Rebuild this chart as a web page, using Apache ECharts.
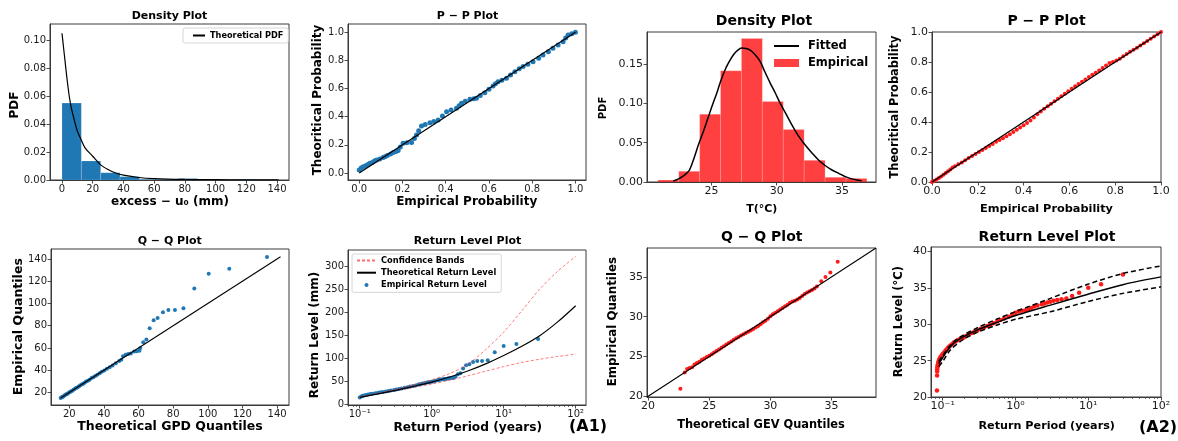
<!DOCTYPE html>
<html><head><meta charset="utf-8">
<script src="https://cdn.jsdelivr.net/npm/echarts@6/dist/echarts.min.js"></script>
<style>html,body{margin:0;padding:0;background:#fff}#c{width:1178px;height:441px}</style>
</head><body><div id="c"></div><script>
// ---------------- DATA ----------------
// (A1) Density plot
const a1HistEdges = [0, 12.6, 25.2, 37.8, 50.4, 63, 75.6, 88.2, 100.8, 113.4, 126];
const a1HistDensity = [0.055, 0.0136, 0.0052, 0.0024, 0.0005, 0.0005, 0.0011, 0.0003, 0.0003, 0.0005];
const a1PdfX = [0, 1, 2, 3, 4, 5, 6, 8, 10, 12.4, 15, 20, 25, 30, 35, 40, 50, 60, 80, 100, 120, 141];
const a1PdfY = [0.105, 0.095, 0.085, 0.075, 0.066, 0.058, 0.052, 0.043, 0.035, 0.029, 0.023, 0.017, 0.011, 0.0075, 0.005, 0.0035, 0.0018, 0.001, 0.0004, 0.0002, 0.0001, 0.00005];
const a1DensXTicks = [0, 20, 40, 60, 80, 100, 120, 140];
const a1DensYTicks = [0, 0.02, 0.04, 0.06, 0.08, 0.10];

// (A1) P-P plot
const a1PPEmp = [0.0, 0.009, 0.018, 0.03, 0.04, 0.049, 0.06, 0.07, 0.08, 0.095, 0.11, 0.119, 0.13, 0.145, 0.157, 0.17, 0.18, 0.19, 0.203, 0.22, 0.242, 0.255, 0.265, 0.275, 0.288, 0.305, 0.327, 0.345, 0.365, 0.385, 0.404, 0.425, 0.45, 0.462, 0.473, 0.49, 0.512, 0.53, 0.542, 0.56, 0.581, 0.6, 0.619, 0.63, 0.642, 0.66, 0.681, 0.7, 0.72, 0.74, 0.758, 0.78, 0.804, 0.83, 0.85, 0.875, 0.896, 0.92, 0.943, 0.955, 0.966, 0.983, 1.0];
const a1PPTheo = [0.021, 0.035, 0.045, 0.052, 0.06, 0.069, 0.075, 0.085, 0.092, 0.1, 0.11, 0.116, 0.125, 0.135, 0.145, 0.152, 0.159, 0.185, 0.211, 0.214, 0.216, 0.245, 0.27, 0.3, 0.334, 0.345, 0.357, 0.366, 0.377, 0.405, 0.436, 0.448, 0.46, 0.478, 0.495, 0.51, 0.524, 0.528, 0.531, 0.55, 0.571, 0.595, 0.618, 0.635, 0.649, 0.66, 0.673, 0.697, 0.72, 0.74, 0.756, 0.772, 0.791, 0.815, 0.839, 0.862, 0.886, 0.91, 0.933, 0.96, 0.981, 0.99, 1.0];
const probTicks = [0, 0.2, 0.4, 0.6, 0.8, 1.0];

// (A1) Q-Q plot
const a1QQTheo = [15, 15.5, 16, 16.5, 17, 17.5, 18, 18.6, 19.2, 19.8, 20.4, 21, 21.7, 22.4, 23.1, 23.8, 24.6, 25.4, 26.2, 27, 27.9, 28.8, 29.7, 30.7, 31.7, 32.8, 33.9, 35, 36.2, 37.5, 38.8, 40.2, 41.7, 43.3, 45, 46.8, 48.8, 50, 51, 52.5, 54, 55.5, 57.5, 59, 60.5, 61, 62.7, 64.5, 66.4, 68.7, 71, 74.1, 77.2, 81, 85.9, 92.2, 100.5, 112.4, 134.2];
const a1QQEmp = [15, 15.6, 16, 16.4, 17, 17.6, 18.1, 18.5, 19.1, 19.9, 20.5, 21, 21.6, 22.5, 23, 23.9, 24.4, 25.3, 26.3, 27.1, 27.6, 28.7, 29.9, 30.5, 31.5, 32.9, 33.6, 34.8, 35.9, 37.2, 38.6, 39.7, 41.2, 42.6, 44.2, 46.3, 48.2, 49.5, 52.5, 53.8, 54.5, 55, 56.8, 57, 57.5, 59.9, 65.2, 67.6, 77.8, 85, 87, 92.2, 94.2, 94.2, 95.8, 113.4, 126.8, 131.3, 141.8];
const a1QQLine = [[15, 15], [142, 142]];
const a1QQTicks = [20, 40, 60, 80, 100, 120, 140];

// (A1) Return level plot
const a1RetTheoP = [0.1, 0.178, 0.316, 0.562, 1, 1.78, 3.16, 5.62, 10, 17.8, 31.6, 56.2, 100];
const a1RetTheoV = [15.2, 22.7, 30.6, 39.2, 48.5, 59.5, 72.5, 88, 106, 126, 149, 179, 214];
const a1RetUpP = [0.1, 0.178, 0.316, 0.562, 1, 1.78, 3.16, 5.62, 10, 17.8, 31.6, 56.2, 100];
const a1RetUpV = [15.3, 24, 33, 42.5, 53.5, 67, 87, 119, 157, 203, 250, 289, 321];
const a1RetLoP = [0.1, 0.178, 0.316, 0.562, 1, 1.78, 3.16, 5.62, 10, 17.8, 31.6, 56.2, 100];
const a1RetLoV = [15.1, 23, 30, 37, 44, 52.5, 62, 72, 82, 91, 98, 104, 109];
const a1RetEmpP = [30, 15, 10, 7.5, 6, 5, 4.29, 3.75, 3.33, 3.0, 2.73, 2.5, 2.31, 2.14, 2.0, 1.88, 1.76, 1.67, 1.58, 1.5, 1.43, 1.36, 1.3, 1.25, 1.2, 1.11, 1.03, 0.97, 0.91, 0.86, 0.81, 0.75, 0.7, 0.65, 0.6, 0.55, 0.5, 0.46, 0.42, 0.38, 0.35, 0.32, 0.3, 0.27, 0.25, 0.23, 0.21, 0.195, 0.18, 0.165, 0.15, 0.14, 0.13, 0.122, 0.115, 0.11, 0.105, 0.1];
const a1RetEmpV = [141.8, 131.3, 126.8, 113.4, 95.8, 94.2, 94.2, 92.2, 87, 85, 77.8, 67.6, 65.2, 59.9, 57.5, 57.2, 56.8, 56, 55.3, 55, 54.6, 54.2, 53.8, 53.2, 52.5, 51, 49.5, 48.6, 48.2, 47.3, 46.3, 45.2, 44.2, 43, 41.2, 39.9, 38.6, 37.2, 35.9, 34.5, 33.6, 32.4, 31.5, 29.9, 28.9, 27.9, 27.1, 26.2, 25.3, 24.4, 23.3, 22.5, 21.6, 20.5, 19.5, 18.5, 17.2, 15];
const a1RetYTicks = [0, 50, 100, 150, 200, 250, 300];

// (A2) Density plot
const a2HistEdges = [20.9, 22.5, 24.1, 25.7, 27.3, 28.9, 30.5, 32.1, 33.7, 35.3, 36.9];
const a2HistDensity = [0.0025, 0.0136, 0.0863, 0.1416, 0.1828, 0.1025, 0.0667, 0.0276, 0.006, 0.0045];
const a2FitX = [22.09, 22.6, 23.24, 23.6, 24.0, 24.4, 24.77, 25.1, 25.41, 25.7, 26.05, 26.35, 26.69, 27.0, 27.33, 27.65, 27.97, 28.35, 28.73, 29.1, 29.5, 29.9, 30.26, 30.7, 31.16, 31.65, 32.18, 32.7, 33.2, 33.7, 34.23, 34.75, 35.25, 35.75, 36.27, 36.5];
const a2FitY = [0.0013, 0.005, 0.0133, 0.027, 0.047, 0.065, 0.083, 0.099, 0.113, 0.128, 0.143, 0.153, 0.162, 0.1675, 0.1705, 0.170, 0.168, 0.162, 0.1535, 0.14, 0.126, 0.113, 0.1004, 0.087, 0.0727, 0.059, 0.047, 0.037, 0.028, 0.021, 0.0153, 0.011, 0.0069, 0.004, 0.0022, 0.0017];
const a2DensXTicks = [25, 30, 35];
const a2DensYTicks = [0, 0.05, 0.10, 0.15];

// (A2) P-P plot
const a2PPEmp = [0, 0.01, 0.02, 0.03, 0.04, 0.05, 0.06, 0.07, 0.08, 0.09, 0.1, 0.115, 0.13, 0.145, 0.16, 0.175, 0.19, 0.205, 0.22, 0.235, 0.25, 0.265, 0.28, 0.295, 0.31, 0.325, 0.34, 0.355, 0.37, 0.385, 0.4, 0.415, 0.43, 0.445, 0.46, 0.475, 0.49, 0.505, 0.52, 0.535, 0.55, 0.565, 0.58, 0.595, 0.61, 0.625, 0.64, 0.655, 0.67, 0.685, 0.7, 0.715, 0.73, 0.745, 0.76, 0.775, 0.79, 0.805, 0.82, 0.835, 0.85, 0.865, 0.88, 0.895, 0.91, 0.925, 0.94, 0.955, 0.97, 0.985, 1.0];
const a2PPTheo = [0, 0.008, 0.017, 0.027, 0.037, 0.048, 0.06, 0.072, 0.084, 0.097, 0.105, 0.118, 0.13, 0.145, 0.16, 0.174, 0.187, 0.2, 0.213, 0.227, 0.24, 0.254, 0.268, 0.28, 0.292, 0.305, 0.318, 0.333, 0.348, 0.363, 0.378, 0.393, 0.41, 0.43, 0.452, 0.47, 0.488, 0.505, 0.522, 0.538, 0.555, 0.571, 0.588, 0.605, 0.622, 0.638, 0.653, 0.668, 0.684, 0.7, 0.715, 0.729, 0.744, 0.76, 0.777, 0.793, 0.8, 0.81, 0.822, 0.838, 0.853, 0.868, 0.881, 0.895, 0.91, 0.925, 0.94, 0.955, 0.97, 0.985, 1.0];

// (A2) Q-Q plot
const a2QQTheo = [22.65, 23.0, 23.2, 23.4, 23.6, 23.8, 24.0, 24.2, 24.4, 24.6, 24.8, 25.0, 25.2, 25.4, 25.6, 25.8, 26.0, 26.2, 26.4, 26.6, 26.8, 27.0, 27.2, 27.4, 27.6, 27.8, 28.0, 28.2, 28.4, 28.6, 28.8, 29.0, 29.2, 29.4, 29.6, 29.8, 30.0, 30.2, 30.4, 30.6, 30.8, 31.0, 31.2, 31.4, 31.6, 31.8, 32.0, 32.2, 32.4, 32.6, 32.8, 33.0, 33.2, 33.4, 33.6, 33.8, 34.16, 34.5, 34.9, 35.5];
const a2QQEmp = [20.96, 23.0, 23.45, 23.55, 23.65, 24.0, 24.2, 24.35, 24.6, 24.75, 24.95, 25.1, 25.3, 25.5, 25.7, 25.9, 26.1, 26.3, 26.5, 26.7, 26.9, 27.1, 27.3, 27.45, 27.65, 27.8, 27.95, 28.1, 28.28, 28.45, 28.65, 28.85, 29.05, 29.3, 29.5, 29.75, 30.05, 30.3, 30.5, 30.7, 30.9, 31.1, 31.3, 31.5, 31.75, 31.9, 32.0, 32.15, 32.35, 32.6, 32.85, 33.05, 33.2, 33.35, 33.55, 33.8, 34.46, 35.0, 35.55, 36.9];
const a2QQLine = [[19.92, 19.92], [38.63, 38.63]];
const a2QQTicks = [20, 25, 30, 35];

// (A2) Return level plot
const a2RetTheoP = [0.088, 0.0984, 0.115, 0.142, 0.195, 0.298, 0.56, 1.05, 3.02, 9.66, 30.8, 100];
const a2RetTheoV = [24.6, 25.3, 26.34, 27.4, 28.3, 29.2, 30.27, 31.27, 32.64, 34.1, 35.48, 36.52];
const a2RetUpP = [0.088, 0.1, 0.12, 0.15, 0.195, 0.3, 0.56, 1.05, 3.02, 9.66, 30, 100];
const a2RetUpV = [24.9, 25.7, 26.8, 27.8, 28.55, 29.53, 30.73, 31.82, 33.56, 35.48, 36.98, 38.03];
const a2RetLoP = [0.088, 0.1, 0.128, 0.195, 0.298, 0.56, 1.05, 3.02, 9.66, 30, 100];
const a2RetLoV = [24.2, 24.9, 26.5, 27.95, 28.9, 29.9, 30.73, 31.73, 33.1, 34.25, 35.15];
const a2RetEmpP = [0.0833, 0.0836, 0.0838, 0.084, 0.0845, 0.085, 0.086, 0.087, 0.088, 0.089, 0.091, 0.093, 0.095, 0.098, 0.1, 0.104, 0.108, 0.112, 0.117, 0.122, 0.128, 0.135, 0.142, 0.15, 0.16, 0.17, 0.18, 0.195, 0.21, 0.23, 0.25, 0.27, 0.3, 0.33, 0.37, 0.41, 0.45, 0.5, 0.56, 0.62, 0.7, 0.8, 0.9, 1.0, 1.1, 1.2, 1.35, 1.5, 1.65, 1.8, 2.0, 2.3, 2.5, 2.73, 3.0, 3.33, 3.75, 4.29, 5.0, 6.0, 7.5, 10, 15, 30];
const a2RetEmpV = [20.9, 22.96, 23.5, 23.8, 24.1, 24.3, 24.5, 24.7, 24.9, 25.1, 25.3, 25.45, 25.6, 25.75, 25.9, 26.1, 26.3, 26.5, 26.7, 26.9, 27.1, 27.3, 27.5, 27.65, 27.8, 27.95, 28.05, 28.2, 28.4, 28.6, 28.8, 28.95, 29.15, 29.35, 29.55, 29.75, 29.95, 30.15, 30.4, 30.6, 30.8, 31.05, 31.35, 31.6, 31.75, 31.85, 31.9, 32.0, 32.25, 32.45, 32.6, 32.75, 32.85, 33.0, 33.1, 33.25, 33.35, 33.45, 33.56, 33.88, 34.33, 35.02, 35.52, 36.85];
const a2RetYTicks = [20, 25, 30, 35, 40];

// log axes ticks
const logTicks = [0.1, 1, 10, 100];
const logTickLabels = ['10\u207B\u00B9', '10\u2070', '10\u00B9', '10\u00B2'];
const logMinorTicks = [0.07, 0.08, 0.09, 0.2, 0.3, 0.4, 0.5, 0.6, 0.7, 0.8, 0.9, 2, 3, 4, 5, 6, 7, 8, 9, 20, 30, 40, 50, 60, 70, 80, 90];

// ---------------- CHART ----------------
const FF = '"DejaVu Sans", sans-serif';
const INK = '#1a1a1a';
const SPINE = '#3a3a3a';
const BLUE = '#1f77b4';
const RED = '#ff1a1a';
const zip = (a, b) => a.map((v, i) => [v, b[i]]);
const dec = d => v => Number(v).toFixed(d);
const logFmt = v => {
  let best = 0, bd = Infinity;
  logTicks.forEach((t, i) => { const d = Math.abs(Math.log10(v) - Math.log10(t)); if (d < bd) { bd = d; best = i; } });
  return logTickLabels[best];
};

const gridBoxes = [
  [50, 24, 239, 156], [348, 24, 238, 156], [647, 32, 229, 150], [932, 32, 229, 150],
  [51, 249, 238, 156], [348, 250, 238, 155], [647, 248, 229, 149], [931, 247, 230, 150]
];
const grid = gridBoxes.map(b => ({
  left: b[0], top: b[1], width: b[2], height: b[3], show: true,
  borderColor: SPINE, borderWidth: 1, backgroundColor: 'transparent', containLabel: false, outerBoundsMode: 'none'
}));

function axis(gi, dim, o) {
  const a = {
    type: o.type || 'value', gridIndex: gi, min: o.min, max: o.max,
    position: dim === 'x' ? 'bottom' : 'left',
    axisLine: { show: true, onZero: false, lineStyle: { color: SPINE, width: 1 } },
    axisTick: { show: true, length: 3.5, lineStyle: { color: SPINE, width: 0.9 }, customValues: o.ticks },
    axisLabel: { show: true, customValues: o.ticks, formatter: o.fmt, fontFamily: FF, fontSize: o.fs, color: INK, margin: 4, hideOverlap: false },
    splitLine: { show: false }, minorTick: { show: false }, splitArea: { show: false }
  };
  if (o.type === 'log') a.logBase = 10;
  return a;
}
function minorAxis(gi, min, max) {
  return {
    type: 'log', logBase: 10, gridIndex: gi, min, max, position: 'bottom',
    axisLine: { show: false, onZero: false },
    axisTick: { show: true, length: 2, lineStyle: { color: SPINE, width: 0.7 }, customValues: logMinorTicks },
    axisLabel: { show: false }, splitLine: { show: false }
  };
}

const xAxis = [
  axis(0, 'x', { min: -7.8, max: 147.8, ticks: a1DensXTicks, fmt: dec(0), fs: 10 }),
  axis(1, 'x', { min: -0.052, max: 1.049, ticks: probTicks, fmt: dec(1), fs: 10 }),
  axis(2, 'x', { min: 20.07, max: 37.6, ticks: a2DensXTicks, fmt: dec(0), fs: 11 }),
  axis(3, 'x', { min: 0, max: 1, ticks: probTicks, fmt: dec(1), fs: 11 }),
  axis(4, 'x', { min: 9.4, max: 146.9, ticks: a1QQTicks, fmt: dec(0), fs: 10 }),
  axis(5, 'x', { type: 'log', min: 0.0687, max: 139, ticks: logTicks, fmt: logFmt, fs: 10 }),
  axis(6, 'x', { min: 19.92, max: 38.63, ticks: a2QQTicks, fmt: dec(0), fs: 11 }),
  axis(7, 'x', { type: 'log', min: 0.069, max: 100, ticks: logTicks, fmt: logFmt, fs: 11 }),
  minorAxis(5, 0.0687, 139),
  minorAxis(7, 0.069, 100)
];
const yAxis = [
  axis(0, 'y', { min: 0, max: 0.1116, ticks: a1DensYTicks, fmt: dec(2), fs: 10 }),
  axis(1, 'y', { min: -0.05, max: 1.059, ticks: probTicks, fmt: dec(1), fs: 10 }),
  axis(2, 'y', { min: 0, max: 0.191, ticks: a2DensYTicks, fmt: dec(2), fs: 11 }),
  axis(3, 'y', { min: 0, max: 1, ticks: probTicks, fmt: dec(1), fs: 11 }),
  axis(4, 'y', { min: 8.7, max: 149, ticks: a1QQTicks, fmt: dec(0), fs: 10 }),
  axis(5, 'y', { min: -1.3, max: 335, ticks: a1RetYTicks, fmt: dec(0), fs: 10 }),
  axis(6, 'y', { min: 19.92, max: 38.63, ticks: a2QQTicks, fmt: dec(0), fs: 11 }),
  axis(7, 'y', { min: 20, max: 40.63, ticks: a2RetYTicks, fmt: dec(0), fs: 11 })
];

function hist(gi, edges, dens, color, name) {
  return {
    type: 'custom', name, xAxisIndex: gi, yAxisIndex: gi, clip: true,
    itemStyle: { color },
    data: dens.map((d, i) => [edges[i], edges[i + 1], d]),
    encode: { x: [0, 1], y: 2 },
    renderItem(params, api) {
      const p0 = api.coord([api.value(0), api.value(2)]);
      const p1 = api.coord([api.value(1), 0]);
      return { type: 'rect', shape: { x: p0[0], y: p0[1], width: p1[0] - p0[0], height: p1[1] - p0[1] },
        style: { fill: color, stroke: 'rgba(255,255,255,0.35)', lineWidth: 0.5 } };
    }
  };
}
function line(gi, data, color, width, name, type) {
  return { type: 'line', name, xAxisIndex: gi, yAxisIndex: gi, data, symbol: 'none', smooth: 0.3,
    lineStyle: { color, width, type: type || 'solid' }, itemStyle: { color }, z: 3 };
}
function straight(gi, data, color, width, name) {
  return { type: 'line', name, xAxisIndex: gi, yAxisIndex: gi, data, symbol: 'none',
    lineStyle: { color, width }, itemStyle: { color }, z: 4 };
}
function pts(gi, data, color, size, name) {
  return { type: 'scatter', name, xAxisIndex: gi, yAxisIndex: gi, data, symbol: 'circle', symbolSize: size,
    itemStyle: { color, opacity: 1 }, z: 2 };
}

const series = [
  hist(0, a1HistEdges, a1HistDensity, BLUE, 'a1hist'),
  line(0, zip(a1PdfX, a1PdfY), '#000', 1.2, 'Theoretical PDF'),
  pts(1, zip(a1PPEmp, a1PPTheo), BLUE, 5, 'a1pp'),
  straight(1, [[0, 0], [1, 1]], '#000', 1.2, 'a1ppline'),
  hist(2, a2HistEdges, a2HistDensity, 'rgba(255,0,0,0.75)', 'Empirical'),
  line(2, zip(a2FitX, a2FitY), '#000', 1.5, 'Fitted'),
  pts(3, zip(a2PPEmp, a2PPTheo), RED, 4, 'a2pp'),
  straight(3, [[0, 0], [1, 1]], '#000', 1.3, 'a2ppline'),
  pts(4, zip(a1QQTheo, a1QQEmp), BLUE, 4, 'a1qq'),
  straight(4, a1QQLine, '#000', 1.1, 'a1qqline'),
  line(5, zip(a1RetUpP, a1RetUpV), 'rgba(255,60,60,0.75)', 0.9, 'Confidence Bands', [3, 2]),
  line(5, zip(a1RetLoP, a1RetLoV), 'rgba(255,60,60,0.75)', 0.9, 'Confidence Bands', [3, 2]),
  line(5, zip(a1RetTheoP, a1RetTheoV), '#000', 1.2, 'Theoretical Return Level'),
  pts(5, zip(a1RetEmpP, a1RetEmpV), BLUE, 4, 'Empirical Return Level'),
  pts(6, zip(a2QQTheo, a2QQEmp), RED, 4, 'a2qq'),
  straight(6, a2QQLine, '#000', 1.1, 'a2qqline'),
  pts(7, zip(a2RetEmpP, a2RetEmpV), RED, 4.5, 'a2retemp'),
  line(7, zip(a2RetTheoP, a2RetTheoV), '#000', 1.5, 'a2rettheo'),
  line(7, zip(a2RetUpP, a2RetUpV), '#000', 1.5, 'a2retup', [5, 3]),
  line(7, zip(a2RetLoP, a2RetLoV), '#000', 1.5, 'a2retlo', [5, 3])
];

const legTxt = (size, lh) => ({ fontFamily: FF, fontWeight: 'bold', fontSize: size, color: '#000', lineHeight: lh });
const noSym = { opacity: 0 };
const legend = [
  { left: 183, top: 28, orient: 'vertical', padding: [3, 5, 3, 9], itemWidth: 12, itemHeight: 8, itemGap: 2,
    borderColor: '#cccccc', borderWidth: 0.8, borderRadius: 2, backgroundColor: 'rgba(255,255,255,0.8)',
    textStyle: legTxt(8.2, 9), selectedMode: false, data: [{ name: 'Theoretical PDF', itemStyle: noSym }] },
  { left: 352, top: 254, orient: 'vertical', padding: [2, 5, 3, 4], itemWidth: 19, itemHeight: 9, itemGap: 3.2,
    borderColor: '#cccccc', borderWidth: 0.8, borderRadius: 2, backgroundColor: 'rgba(255,255,255,0.8)',
    textStyle: legTxt(8.3, 9), selectedMode: false,
    data: [{ name: 'Confidence Bands', itemStyle: noSym }, { name: 'Theoretical Return Level', itemStyle: noSym },
      { name: 'Empirical Return Level', icon: 'path://M0,0 M19,9 M11.5,4.5 A2,2 0 1,1 7.5,4.5 A2,2 0 1,1 11.5,4.5 Z' }] },
  { left: 773, top: 40, orient: 'vertical', padding: 0, itemWidth: 25, itemHeight: 8, itemGap: 5,
    textStyle: Object.assign(legTxt(11.5, 12), { padding: [0, 0, 0, 4] }), selectedMode: false,
    data: [{ name: 'Fitted', itemStyle: noSym }, { name: 'Empirical', icon: 'rect', itemStyle: { color: 'rgba(255,0,0,0.75)' } }] }
];

function txt(x, y, s, size, rot) {
  return { type: 'text', x, y, rotation: rot ? Math.PI / 2 : 0, silent: true, z: 100,
    style: { text: s, fontFamily: FF, fontWeight: 'bold', fontSize: size, fill: '#000', align: 'center', verticalAlign: 'middle' } };
}
const graphic = [
  txt(169.5, 16, 'Density Plot', 11), txt(467.5, 16, 'P \u2212 P Plot', 11),
  txt(764, 21, 'Density Plot', 14), txt(1046.5, 21, 'P \u2212 P Plot', 14),
  txt(169.7, 241.5, 'Q \u2212 Q Plot', 11), txt(467.5, 241.5, 'Return Level Plot', 11),
  txt(761.7, 237, 'Q \u2212 Q Plot', 14), txt(1047, 237, 'Return Level Plot', 14),
  txt(15, 105, 'PDF', 12, true), txt(170, 201.5, 'excess \u2212 u\u2080 (mm)', 12),
  txt(318, 100, 'Theoritical Probability', 12, true), txt(466.7, 202, 'Empirical Probability', 12),
  txt(603, 108, 'PDF', 10, true), txt(761.7, 209, 'T(\u00B0C)', 11),
  txt(895, 107, 'Theoritical Probability', 11.4, true), txt(1046.5, 209, 'Empirical Probability', 11.3),
  txt(18.3, 326.7, 'Empirical Quantiles', 12.5, true), txt(170, 426.7, 'Theoretical GPD Quantiles', 12.5),
  txt(315, 335, 'Return Level (mm)', 12, true), txt(467.7, 427.7, 'Return Period (years)', 12.2),
  txt(613.3, 321.7, 'Empirical Quantiles', 11.8, true), txt(761, 425, 'Theoretical GEV Quantiles', 11.4),
  txt(899.3, 321.7, 'Return Level (\u00B0C)', 11.5, true), txt(1046.7, 426, 'Return Period (years)', 11.2),
  txt(588, 427, '(A1)', 16), txt(1158, 428, '(A2)', 16)
];

const chart = echarts.init(document.getElementById('c'), null, { renderer: 'canvas' });
chart.setOption({ animation: false, backgroundColor: '#fff', grid, xAxis, yAxis, series, legend, graphic });
</script></body></html>
